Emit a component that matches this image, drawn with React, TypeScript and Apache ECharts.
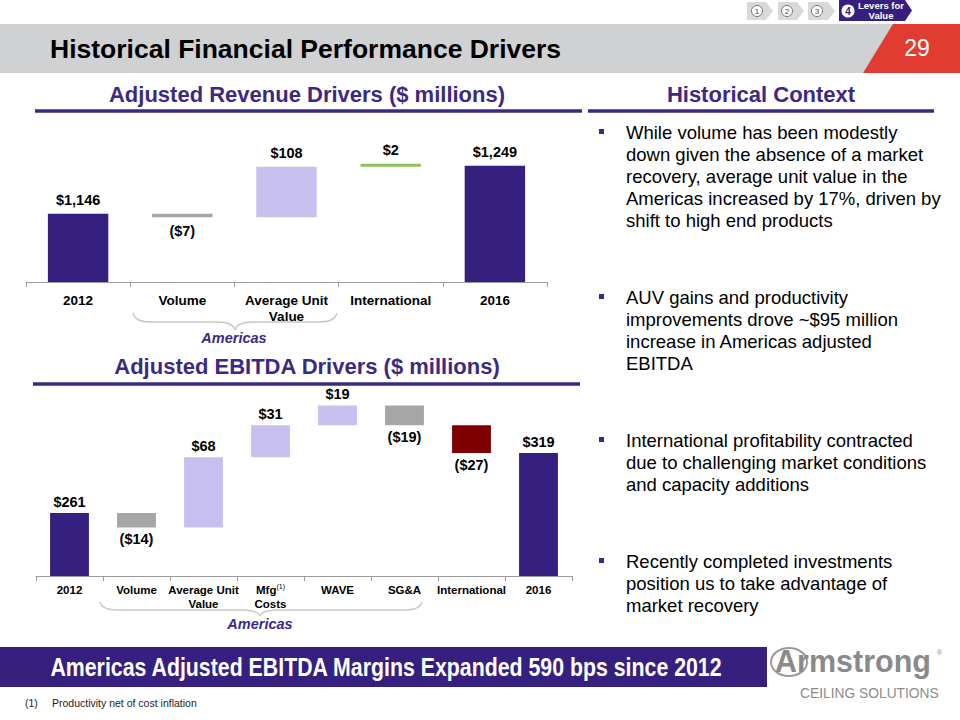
import React, { useEffect, useRef } from "react";
import * as echarts from "echarts";

// ---------- data ----------
const revCategories = ["2012", "Volume", "Average Unit\nValue", "International", "2016"];
const revValues = [1146, -7, 108, 2, 1249];
const revKinds = ["total", "delta", "delta", "delta", "total"];

const ebitdaCategories = ["2012", "Volume", "Average Unit\nValue", "Mfg(1)\nCosts", "WAVE", "SG&A", "International", "2016"];
const ebitdaValues = [261, -14, 68, 31, 19, -19, -27, 319];
const ebitdaKinds = ["total", "delta", "delta", "delta", "delta", "delta", "delta", "total"];

const contextBullets = [
  "While volume has been modestly\ndown given the absence of a market\nrecovery, average unit value in the\nAmericas increased by 17%, driven by\nshift to high end products",
  "AUV gains and productivity\nimprovements drove ~$95 million\nincrease in Americas adjusted\nEBITDA",
  "International profitability contracted\ndue to challenging market conditions\nand capacity additions",
  "Recently completed investments\nposition us to take advantage of\nmarket recovery",
];

// ---------- styles ----------
const FONT = '"Liberation Sans", Arial, Helvetica, sans-serif';
const PURPLE = "#36207f";
const HEAD = "#3a2a84";
const LAVENDER = "#c7c0ee";
const GRAY = "#a6a6a6";
const GREEN = "#8cc15a";
const DARKRED = "#800000";

function waterfall(values: number[], kinds: string[]) {
  const base: number[] = [];
  const vis: number[] = [];
  let run = 0;
  values.forEach((v, i) => {
    if (kinds[i] === "total") {
      base.push(0);
      vis.push(v);
      run = v;
    } else {
      const next = run + v;
      base.push(Math.min(run, next));
      vis.push(Math.abs(v));
      run = next;
    }
  });
  return { base, vis };
}

function colorFor(cat: string, v: number, kind: string) {
  if (kind === "total") return PURPLE;
  if (cat === "International") return v >= 0 ? GREEN : DARKRED;
  return v >= 0 ? LAVENDER : GRAY;
}

function labelFor(v: number, kind: string) {
  if (kind === "total") return "$" + v.toLocaleString("en-US");
  return v >= 0 ? "$" + v.toLocaleString("en-US") : "($" + Math.abs(v).toLocaleString("en-US") + ")";
}

function wfSeries(idx: number, cats: string[], values: number[], kinds: string[], fontSize: number, dist: number) {
  const { base, vis } = waterfall(values, kinds);
  return [
    {
      type: "bar",
      xAxisIndex: idx,
      yAxisIndex: idx,
      stack: "wf" + idx,
      barWidth: "58%",
      clip: true,
      silent: true,
      itemStyle: { color: "rgba(0,0,0,0)" },
      data: base,
    },
    {
      type: "bar",
      xAxisIndex: idx,
      yAxisIndex: idx,
      stack: "wf" + idx,
      barWidth: "58%",
      barMinHeight: 3,
      clip: true,
      label: {
        show: true,
        fontFamily: FONT,
        fontWeight: "bold",
        fontSize,
        color: "#000",
        distance: dist,
        formatter: (p: any) => labelFor(values[p.dataIndex], kinds[p.dataIndex]),
      },
      data: vis.map((v, i) => ({
        value: v,
        itemStyle: { color: colorFor(cats[i], values[i], kinds[i]) },
        label: { position: kinds[i] === "delta" && values[i] < 0 ? "bottom" : "top" },
      })),
    },
  ];
}

function txt(x: number, y: number, text: string, size: number, fill: string, weight = "normal", align = "left", extra: any = {}) {
  return {
    type: "text",
    x,
    y,
    silent: true,
    ...extra,
    style: {
      text,
      fill,
      fontSize: size,
      fontWeight: weight,
      fontFamily: FONT,
      align,
      textAlign: align,
      verticalAlign: "middle",
      textVerticalAlign: "middle",
      ...(extra.style || {}),
    },
  };
}

function brace(x0: number, x1: number, xc: number, y0: number, y1: number, y2: number) {
  const st = { stroke: "#c6c6c6", lineWidth: 1.3, fill: "none" };
  const r = 18;
  return [
    { type: "bezierCurve", shape: { x1: x0, y1: y0, cpx1: x0 + 2, cpy1: y1, x2: x0 + r, y2: y1 }, style: st },
    { type: "line", shape: { x1: x0 + r, y1, x2: xc - r, y2: y1 }, style: st },
    { type: "bezierCurve", shape: { x1: xc - r, y1, cpx1: xc - 2, cpy1: y1, x2: xc, y2 }, style: st },
    { type: "bezierCurve", shape: { x1: xc, y1: y2, cpx1: xc + 2, cpy1: y1, x2: xc + r, y2: y1 }, style: st },
    { type: "line", shape: { x1: xc + r, y1, x2: x1 - r, y2: y1 }, style: st },
    { type: "bezierCurve", shape: { x1: x1 - r, y1, cpx1: x1 - 2, cpy1: y1, x2: x1, y2: y0 }, style: st },
  ];
}

function chevron(x: number, w: number, y0: number, y1: number, fill: string) {
  const ym = (y0 + y1) / 2;
  return { type: "polygon", shape: { points: [[x, y0], [x + w - 7, y0], [x + w, ym], [x + w - 7, y1], [x, y1]] }, style: { fill } };
}

export default function App() {
  const ref = useRef<HTMLDivElement>(null);

  useEffect(() => {
    if (!ref.current) return;
    const chart = echarts.init(ref.current, undefined, { renderer: "svg" });

    const axisCommon = (cats: string[], size: number, lh: number, margin: number) => ({
      type: "category",
      data: cats,
      axisLine: { lineStyle: { color: "#9a9a9a", width: 1 } },
      axisTick: { show: true, length: 5, lineStyle: { color: "#9a9a9a" } },
      axisLabel: {
        interval: 0,
        margin,
        fontFamily: FONT,
        fontWeight: "bold",
        fontSize: size,
        lineHeight: lh,
        color: "#000",
        formatter: (v: string) => v.replace("(1)", "{sup|(1)}"),
        rich: { sup: { fontSize: 7, fontWeight: "normal", color: "#000", fontFamily: FONT, padding: [0, 0, 7, 0] } },
      },
    });

    const graphics: any[] = [
      // title bar
      { type: "rect", shape: { x: 0, y: 24, width: 960, height: 49 }, style: { fill: "#d0d1d3" } },
      { type: "polygon", shape: { points: [[893, 24], [960, 24], [960, 73], [863, 73]] }, style: { fill: "#e03c31" } },
      txt(917, 48, "29", 23, "#fff", "normal", "center"),
      txt(50, 49, "Historical Financial Performance Drivers", 26.5, "#000", "bold", "left"),
      // step chevrons
      chevron(747, 26, 2, 20, "#d9d9d9"),
      chevron(778, 26, 2, 20, "#d9d9d9"),
      chevron(808, 27, 2, 20, "#d9d9d9"),
      chevron(839, 73, 0, 21, PURPLE),
      { type: "circle", shape: { cx: 757, cy: 11, r: 5.5 }, style: { fill: "#fff", stroke: "#777", lineWidth: 1 } },
      txt(757, 11.5, "1", 8, "#444", "normal", "center"),
      { type: "circle", shape: { cx: 787, cy: 11, r: 5.5 }, style: { fill: "#fff", stroke: "#777", lineWidth: 1 } },
      txt(787, 11.5, "2", 8, "#444", "normal", "center"),
      { type: "circle", shape: { cx: 817, cy: 11, r: 5.5 }, style: { fill: "#fff", stroke: "#777", lineWidth: 1 } },
      txt(817, 11.5, "3", 8, "#444", "normal", "center"),
      { type: "circle", shape: { cx: 848, cy: 11, r: 6.5 }, style: { fill: "#fff" } },
      txt(848, 11.5, "4", 10, PURPLE, "bold", "center"),
      txt(881, 5.5, "Levers for", 9.5, "#fff", "bold", "center"),
      txt(881, 15.5, "Value", 9.5, "#fff", "bold", "center"),
      // section headers
      txt(307, 94, "Adjusted Revenue Drivers ($ millions)", 22, HEAD, "bold", "center"),
      { type: "line", shape: { x1: 35, y1: 111, x2: 582, y2: 111 }, style: { stroke: HEAD, lineWidth: 3.5 } },
      txt(761, 94, "Historical Context", 22, HEAD, "bold", "center"),
      { type: "line", shape: { x1: 588, y1: 111, x2: 934, y2: 111 }, style: { stroke: HEAD, lineWidth: 3.5 } },
      txt(307, 366, "Adjusted EBITDA Drivers ($ millions)", 22, HEAD, "bold", "center"),
      { type: "line", shape: { x1: 33, y1: 384, x2: 580, y2: 384 }, style: { stroke: HEAD, lineWidth: 3.5 } },
      // braces
      ...brace(133, 337, 235, 313, 322, 330),
      txt(234, 338, "Americas", 14.5, HEAD, "bold", "center", { style: { fontStyle: "italic" } }),
      ...brace(100, 422, 260, 602, 610, 616),
      txt(260, 624, "Americas", 14.5, HEAD, "bold", "center", { style: { fontStyle: "italic" } }),
      // banner
      { type: "rect", shape: { x: 0, y: 647, width: 767, height: 40 }, style: { fill: PURPLE } },
      txt(386, 667, "Americas Adjusted EBITDA Margins Expanded 590 bps since 2012", 26, "#fff", "bold", "center", { scaleX: 0.82 }),
      // footnote
      txt(25, 703, "(1)", 10.5, "#222", "normal", "left"),
      txt(52, 703, "Productivity net of cost inflation", 10.5, "#222", "normal", "left"),
      // logo
      { type: "ellipse", shape: { cx: 789, cy: 662, rx: 18, ry: 14 }, style: { fill: "none", stroke: "#9a9a9a", lineWidth: 2 } },
      txt(775, 661, "Armstrong", 30.5, "#8a8a8a", "bold", "left"),
      txt(937, 652, "®", 7, "#8a8a8a", "normal", "left"),
      txt(800, 693, "CEILING SOLUTIONS", 13.8, "#8c8c8c", "normal", "left"),
    ];

    const bulletTops = [121, 286, 429, 550];
    contextBullets.forEach((b, i) => {
      graphics.push({ type: "rect", shape: { x: 599, y: bulletTops[i] + 8, width: 5, height: 5 }, style: { fill: HEAD } });
      graphics.push(
        txt(626, bulletTops[i], b, 18.5, "#000", "normal", "left", {
          style: { verticalAlign: "top", textVerticalAlign: "top", lineHeight: 22.2 },
        })
      );
    });

    chart.setOption({
      animation: false,
      backgroundColor: "#fff",
      textStyle: { fontFamily: FONT },
      grid: [
        { left: 26, top: 142, width: 521, height: 140 },
        { left: 36, top: 387, width: 536, height: 189 },
      ],
      xAxis: [
        { gridIndex: 0, ...axisCommon(revCategories, 13.5, 16, 10) },
        { gridIndex: 1, ...axisCommon(ebitdaCategories, 11.5, 14, 7) },
      ],
      yAxis: [
        { gridIndex: 0, type: "value", min: 1000, max: 1300, show: false, splitLine: { show: false } },
        { gridIndex: 1, type: "value", min: 200, max: 383, show: false, splitLine: { show: false } },
      ],
      series: [
        ...wfSeries(0, revCategories, revValues, revKinds, 14.5, 6),
        ...wfSeries(1, ebitdaCategories, ebitdaValues, ebitdaKinds, 14.5, 4),
      ],
      graphic: { elements: graphics },
    });

    return () => chart.dispose();
  }, []);

  return <div ref={ref} style={{ position: "absolute", left: 0, top: 0, width: 960, height: 720 }} />;
}
